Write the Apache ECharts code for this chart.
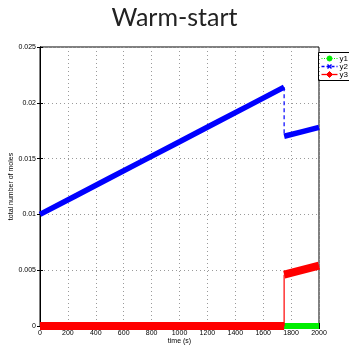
<!DOCTYPE html>
<html>
<head>
<meta charset="utf-8">
<script src="https://cdn.jsdelivr.net/npm/echarts@6/dist/echarts.min.js"></script>
<style>
html,body{margin:0;padding:0;background:#fff;}
#c{width:349px;height:346px;}
</style>
</head>
<body>
<div id="c"></div>
<script>
// ---- data ----
var xTicks = [0, 200, 400, 600, 800, 1000, 1200, 1400, 1600, 1800, 2000];
var yTicks = [0, 0.005, 0.01, 0.015, 0.02, 0.025];
var seriesNames = ['y1', 'y2', 'y3'];

// before the jump
var timeA = [0, 250, 500, 750, 1000, 1250, 1500, 1750];
// after the jump
var timeB = [1750, 1875, 2000];

var y1A = [0, 0, 0, 0, 0, 0, 0, 0];
var y1B = [0, 0, 0];
var y2A = [0.0100, 0.01163, 0.01326, 0.01489, 0.01651, 0.01814, 0.01977, 0.0214];
var y2B = [0.0170, 0.0174, 0.0178];
var y3A = [0, 0, 0, 0, 0, 0, 0, 0];
var y3B = [0.0046, 0.0050, 0.0054];

function pairs(t, v) { return t.map(function (x, i) { return [x, v[i]]; }); }
function seg(a, b) { return pairs(timeA, a).concat([[null, null]]).concat(pairs(timeB, b)); }
function jump(a, b) { return [[timeA[timeA.length - 1], a[a.length - 1]], [timeB[0], b[0]]]; }

var chart = echarts.init(document.getElementById('c'));
var fontAx = 'Liberation Sans, Arial, sans-serif';
var split = { show: true, lineStyle: { color: '#9a9a9a', type: [1, 3], width: 1 } };

var green = '#00ee00', blue = '#0000ff', red = '#ff0000';

chart.setOption({
  animation: false,
  title: {
    text: 'Warm-start', left: 'center', top: 0,
    textStyle: { fontFamily: 'Lato, sans-serif', fontSize: 25, fontWeight: 'normal', color: '#222' }
  },
  grid: { left: 40, right: 30, top: 47, bottom: 20, outerBoundsMode: 'none', containLabel: false,
    show: true, borderColor: '#000', borderWidth: 1 },
  xAxis: [{
    type: 'value', min: xTicks[0], max: xTicks[xTicks.length - 1], interval: 200,
    name: 'time (s)', nameLocation: 'middle', nameGap: 12, nameMoveOverlap: false,
    nameTextStyle: { fontFamily: fontAx, fontSize: 7, color: '#000' },
    axisLine: { show: true, lineStyle: { color: '#000' } },
    axisTick: { show: true, inside: true, length: 3, lineStyle: { color: '#000' } },
    axisLabel: { fontFamily: fontAx, fontSize: 7, color: '#000', margin: 4,
      formatter: function (v) { return String(v); } },
    splitLine: split
  }, {
    type: 'value', position: 'top', min: 0, max: 2000, interval: 200,
    axisLine: { show: true, lineStyle: { color: '#000' } },
    axisTick: { show: true, inside: true, length: 3, lineStyle: { color: '#000' } },
    axisLabel: { show: false }, splitLine: { show: false }
  }],
  yAxis: [{
    type: 'value', min: yTicks[0], max: yTicks[yTicks.length - 1], interval: 0.005,
    name: 'total number of moles', nameLocation: 'middle', nameGap: 25, nameMoveOverlap: false,
    nameTextStyle: { fontFamily: fontAx, fontSize: 7, color: '#000' },
    axisLine: { show: true, lineStyle: { color: '#000' } },
    axisTick: { show: true, inside: true, length: 3, lineStyle: { color: '#000' } },
    axisLabel: { fontFamily: fontAx, fontSize: 7, color: '#000', margin: 4,
      formatter: function (v) { return String(+v.toFixed(3)); } },
    splitLine: split
  }, {
    type: 'value', position: 'right', min: 0, max: 0.025, interval: 0.005,
    axisLine: { show: true, lineStyle: { color: '#000' } },
    axisTick: { show: true, inside: true, length: 3, lineStyle: { color: '#000' } },
    axisLabel: { show: false }, splitLine: { show: false }
  }],
  series: [
    { name: seriesNames[0], type: 'line', data: seg(y1A, y1B), showSymbol: false, connectNulls: false, clip: false,
      lineStyle: { color: green, width: 6 }, z: 2 },
    { name: seriesNames[1], type: 'line', data: seg(y2A, y2B), showSymbol: false, connectNulls: false, clip: false,
      lineStyle: { color: blue, width: 5.5 }, z: 3 },
    { name: seriesNames[1] + '-jump', type: 'line', data: jump(y2A, y2B), showSymbol: false, clip: false,
      lineStyle: { color: blue, width: 1.2, type: [4, 3] }, z: 3 },
    { name: seriesNames[2], type: 'line', data: seg(y3A, y3B), showSymbol: false, connectNulls: false, clip: false,
      lineStyle: { color: red, width: 8 }, z: 4 },
    { name: seriesNames[2] + '-jump', type: 'line', data: jump(y3A, y3B), showSymbol: false, clip: false,
      lineStyle: { color: red, width: 1.2 }, z: 4 }
  ],
  graphic: [{
    type: 'group', left: 318, top: 52, z: 100,
    children: [
      { type: 'rect', shape: { x: 0, y: 0, width: 40, height: 28 }, style: { fill: '#fff', stroke: '#000', lineWidth: 1 } },
      // y1
      { type: 'line', shape: { x1: 3, y1: 6, x2: 19, y2: 6 }, style: { stroke: green, lineWidth: 1, lineDash: [1, 1.5] } },
      { type: 'circle', shape: { cx: 11, cy: 6, r: 2.5 }, style: { fill: green, stroke: green } },
      { type: 'text', style: { x: 21, y: 6, text: seriesNames[0], fontFamily: fontAx, fontSize: 8, fill: '#000', verticalAlign: 'middle' } },
      // y2
      { type: 'line', shape: { x1: 3, y1: 14, x2: 19, y2: 14 }, style: { stroke: blue, lineWidth: 1.3, lineDash: [3, 2] } },
      { type: 'line', shape: { x1: 9, y1: 12, x2: 13, y2: 16 }, style: { stroke: blue, lineWidth: 1.5 } },
      { type: 'line', shape: { x1: 9, y1: 16, x2: 13, y2: 12 }, style: { stroke: blue, lineWidth: 1.5 } },
      { type: 'text', style: { x: 21, y: 14, text: seriesNames[1], fontFamily: fontAx, fontSize: 8, fill: '#000', verticalAlign: 'middle' } },
      // y3
      { type: 'line', shape: { x1: 3, y1: 22, x2: 19, y2: 22 }, style: { stroke: red, lineWidth: 1.3 } },
      { type: 'polygon', shape: { points: [[11, 19], [14, 22], [11, 25], [8, 22]] }, style: { fill: red, stroke: red } },
      { type: 'text', style: { x: 21, y: 22, text: seriesNames[2], fontFamily: fontAx, fontSize: 8, fill: '#000', verticalAlign: 'middle' } }
    ]
  }]
});
</script>
</body>
</html>
